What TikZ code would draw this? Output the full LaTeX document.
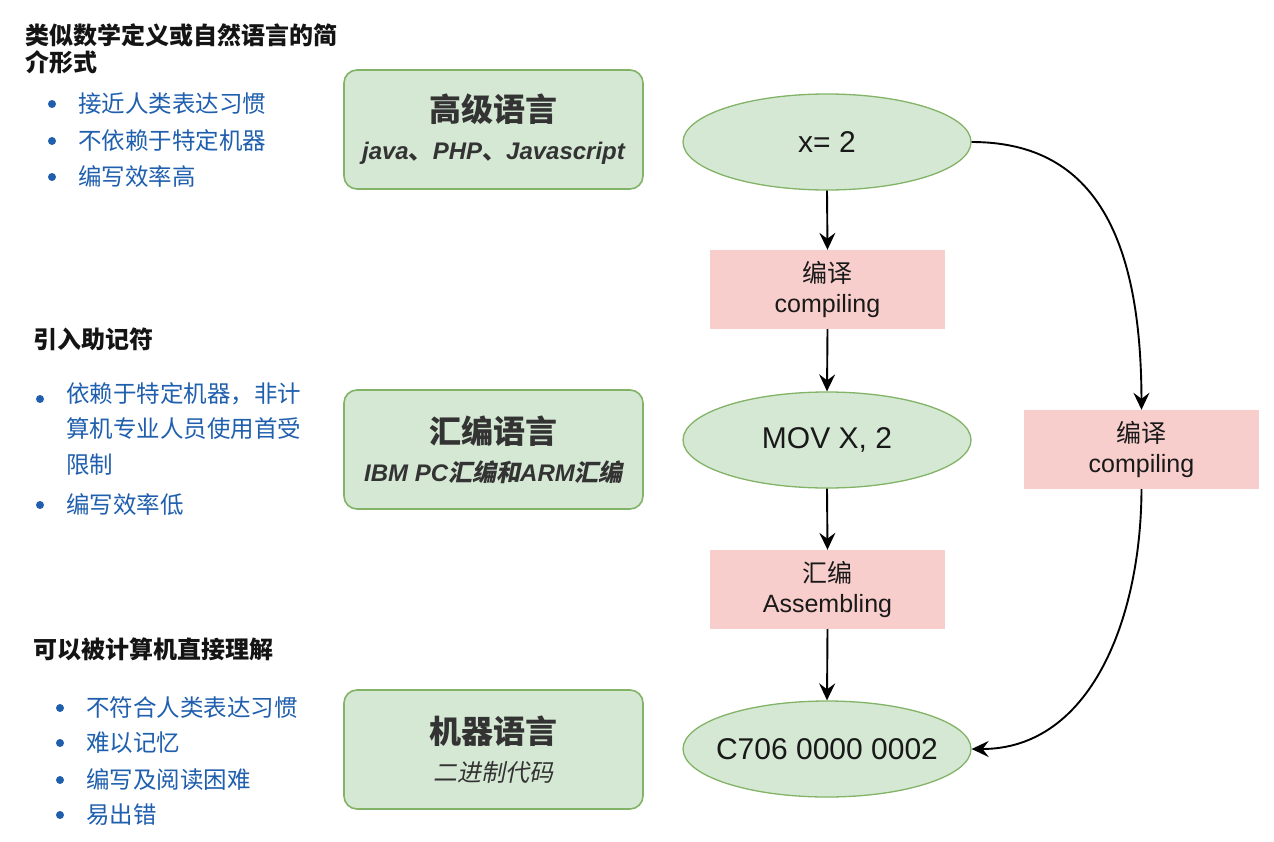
\documentclass[tikz,border=0pt]{standalone}
\usepackage{fontspec}
\setmainfont{Liberation Sans}
\newfontfamily\cjk{Noto Sans CJK SC}
\newfontfamily\cjkit{Noto Sans CJK SC}[FakeSlant=0.2]
\usetikzlibrary{shapes.geometric,arrows.meta}
\definecolor{gfill}{HTML}{D5E8D4}
\definecolor{gline}{HTML}{82B366}
\definecolor{pfill}{HTML}{F8CECC}
\definecolor{btext}{HTML}{1F5FAE}
\definecolor{dtext}{HTML}{333333}
\newcommand\boxtitlefont{\cjk\bfseries\fontsize{32}{36}\selectfont}
\newcommand\zw[1]{\makebox[0pt]{#1}}
\tikzset{
  langbox/.style={draw=gline,fill=gfill,line width=1.6pt,rounded corners=13pt,
    minimum width=299pt,minimum height=119pt,inner sep=0pt,align=center,text=dtext,
    font=\fontsize{24}{38}\selectfont},
  codeell/.style={ellipse,draw=gline,fill=gfill,line width=1.3pt,
    minimum width=288pt,minimum height=96pt,inner sep=0pt,
    font=\fontsize{30}{34}\selectfont,text=black!90},
  stepbox/.style={fill=pfill,minimum width=235pt,minimum height=79pt,inner sep=0pt,
    align=center,font=\fontsize{25}{30}\selectfont,text=black!90},
  heading/.style={anchor=west,inner sep=0pt,align=left,
    font=\cjk\bfseries\fontsize{24}{27}\selectfont,text=black!92},
  item/.style={anchor=west,inner sep=0pt,align=left,
    font=\cjk\fontsize{23.5}{35.5}\selectfont,text=btext},
  dotmark/.style={circle,fill=btext,inner sep=0pt,minimum size=8pt},
  arr/.style={line width=1.9pt,-{Stealth[length=17pt,width=16pt,inset=6pt]}}
}
\begin{document}
\begin{tikzpicture}[x=1pt,y=-1pt]
\useasboundingbox[fill=white] (0,0) rectangle (1274,841);

% left column text
\node[heading] (h1) at (25,49) {类似数学定义或自然语言的简\\介形式};
\node[dotmark] (d11) at (52,104) {};
\node[item] (t11) at (78,104) {接近人类表达习惯};
\node[dotmark] (d12) at (52,141) {};
\node[item] (t12) at (78,141) {不依赖于特定机器};
\node[dotmark] (d13) at (52,177) {};
\node[item] (t13) at (78,177) {编写效率高};

\node[heading] (h2) at (33,339) {引入助记符};
\node[dotmark] (d21) at (40,399) {};
\node[item,anchor=north west] (t21) at (66,382) {依赖于特定机器，非计\\算机专业人员使用首受\\限制};
\node[dotmark] (d22) at (40,505) {};
\node[item] (t22) at (66,505) {编写效率低};

\node[heading] (h3) at (33,649) {可以被计算机直接理解};
\node[dotmark] (d31) at (60,708) {};
\node[item] (t31) at (86,708) {不符合人类表达习惯};
\node[dotmark] (d32) at (60,743) {};
\node[item] (t32) at (86,743) {难以记忆};
\node[dotmark] (d33) at (60,780) {};
\node[item] (t33) at (86,780) {编写及阅读困难};
\node[dotmark] (d34) at (60,815) {};
\node[item] (t34) at (86,815) {易出错};

% language boxes
\node[langbox] (hl) at (493.5,129.5) {{\boxtitlefont 高级语言}\\
  {\bfseries\itshape java{\cjk 、}PHP{\cjk 、}Javascript}};
\node[langbox] (asm) at (493.5,449.5) {{\boxtitlefont 汇编语言}\\
  {\bfseries\itshape IBM PC{\cjkit 汇编和}ARM{\cjkit 汇编}}};
\node[langbox] (ml) at (493.5,749.5) {{\boxtitlefont 机器语言}\\
  {\cjkit 二进制代码}};

% code ellipses
\node[codeell] (e1) at (827,142) {\zw{x= 2}};
\node[codeell] (e2) at (827,440) {\zw{MOV X, 2}};
\node[codeell] (e3) at (827,749) {\zw{C706 0000 0002}};

% step boxes
\node[stepbox] (s1) at (827.5,289.5) {{\cjk 编译}\\compiling};
\node[stepbox] (s2) at (827.5,589.5) {{\cjk 汇编}\\Assembling};
\node[stepbox] (s3) at (1141.5,449.5) {{\cjk 编译}\\compiling};

% connectors
\draw[arr] (e1.south) -- (s1.north);
\draw[arr] (s1.south) -- (e2.north);
\draw[arr] (e2.south) -- (s2.north);
\draw[arr] (s2.south) -- (e3.north);
\draw[arr] (e1.east) .. controls (1090,142) and (1141,230) .. (s3.north);
\draw[arr] (s3.south) .. controls (1141,620) and (1090,749) .. (e3.east);
\end{tikzpicture}
\end{document}
